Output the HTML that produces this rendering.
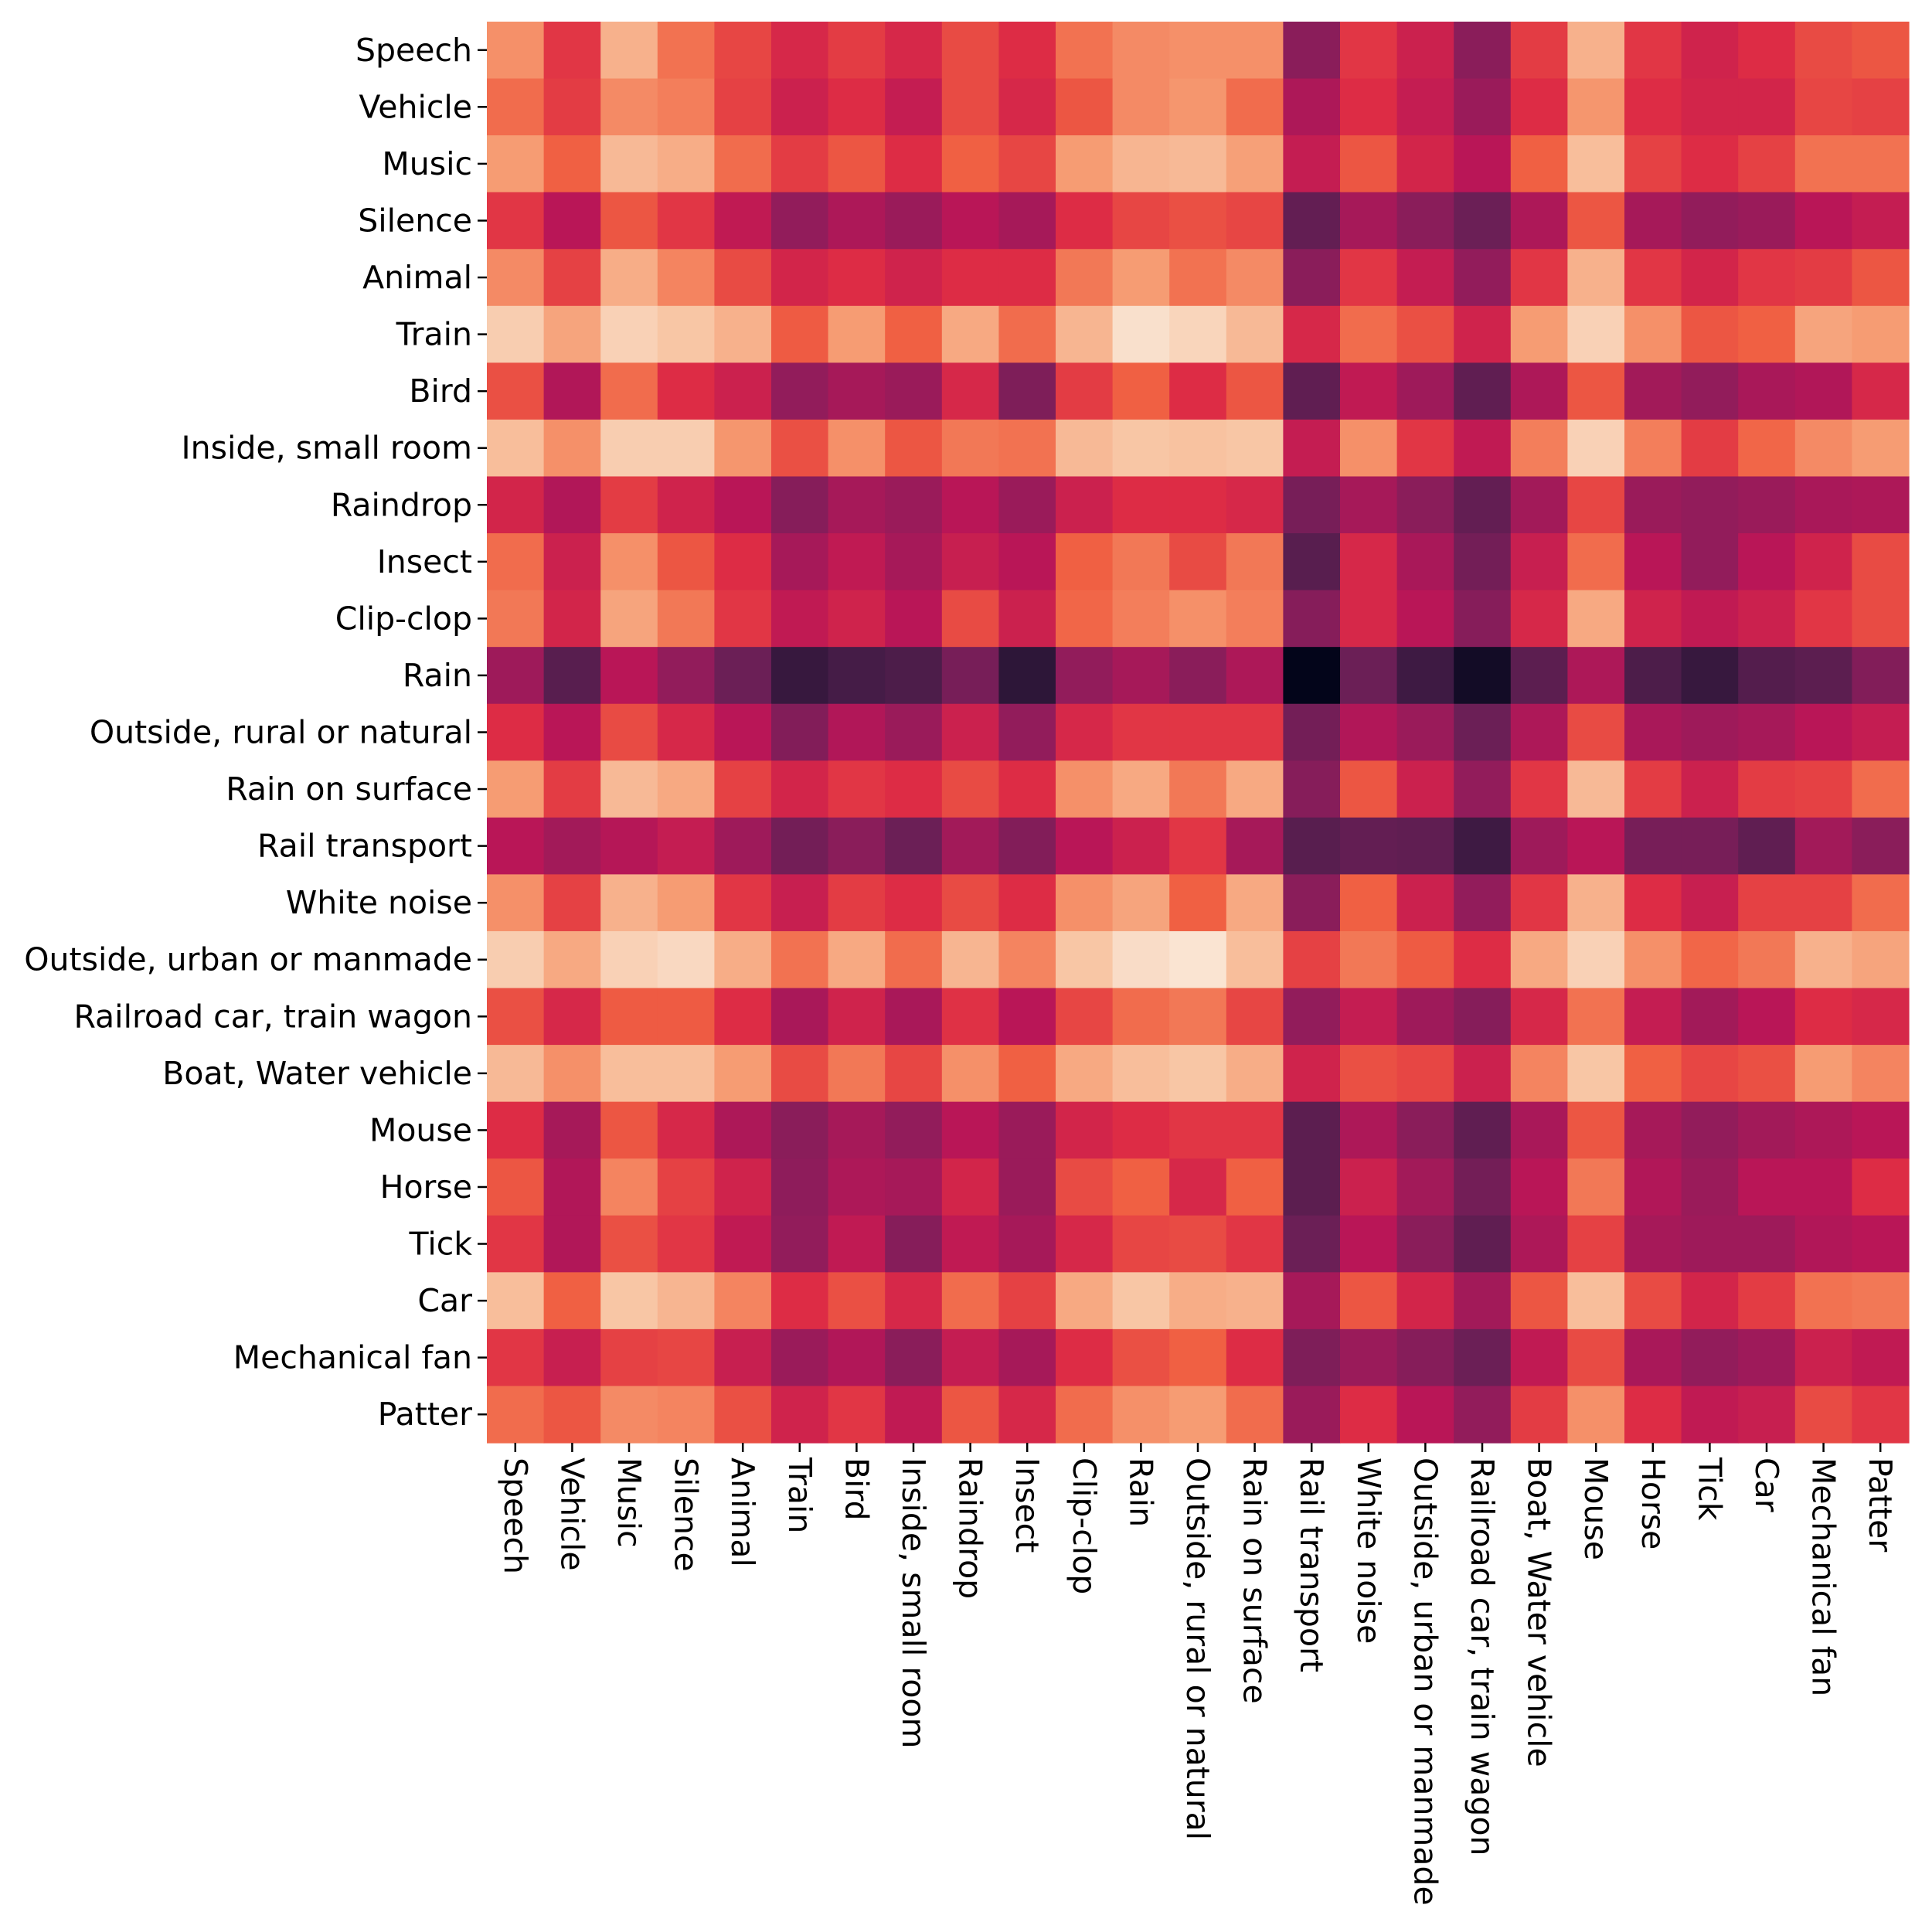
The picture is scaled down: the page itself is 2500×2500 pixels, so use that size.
<!DOCTYPE html>
<html><head><meta charset="utf-8">
<style>
html,body{margin:0;padding:0;background:#fff;}
svg{display:block;font-family:"DejaVu Sans","Liberation Sans",sans-serif;}
</style></head>
<body>
<svg id="chart" width="2500" height="2500" viewBox="0 0 2500 2500" xmlns="http://www.w3.org/2000/svg">
<rect width="2500" height="2500" fill="#fff"/>
<g id="cells"></g>
<g id="yaxis"></g>
<g id="xaxis"></g>
</svg>
<script>
const categories = ["Speech","Vehicle","Music","Silence","Animal","Train","Bird","Inside, small room","Raindrop","Insect","Clip-clop","Rain","Outside, rural or natural","Rain on surface","Rail transport","White noise","Outside, urban or manmade","Railroad car, train wagon","Boat, Water vehicle","Mouse","Horse","Tick","Car","Mechanical fan","Patter"];
const rowSpeech=[0.78,0.62,0.85,0.73,0.65,0.58,0.63,0.58,0.66,0.6,0.73,0.77,0.78,0.78,0.38,0.62,0.55,0.38,0.63,0.85,0.62,0.56,0.6,0.66,0.68];
const rowVehicle=[0.72,0.63,0.77,0.75,0.64,0.55,0.6,0.53,0.66,0.58,0.68,0.77,0.79,0.72,0.47,0.6,0.53,0.42,0.6,0.79,0.6,0.57,0.57,0.65,0.64];
const rowMusic=[0.8,0.7,0.87,0.84,0.72,0.63,0.68,0.6,0.7,0.65,0.8,0.86,0.87,0.81,0.53,0.68,0.57,0.5,0.7,0.88,0.64,0.6,0.64,0.73,0.73];
const rowSilence=[0.62,0.5,0.68,0.62,0.52,0.4,0.47,0.42,0.5,0.45,0.6,0.65,0.67,0.65,0.28,0.45,0.38,0.3,0.47,0.68,0.45,0.4,0.42,0.5,0.53];
const rowAnimal=[0.77,0.64,0.84,0.76,0.66,0.57,0.6,0.56,0.6,0.6,0.74,0.8,0.73,0.77,0.38,0.62,0.53,0.4,0.62,0.85,0.62,0.57,0.62,0.63,0.68];
const rowTrain=[0.92,0.82,0.93,0.9,0.85,0.69,0.8,0.7,0.83,0.72,0.86,0.97,0.94,0.87,0.58,0.72,0.67,0.56,0.8,0.93,0.78,0.68,0.7,0.82,0.8];
const rowBird=[0.67,0.48,0.72,0.6,0.55,0.4,0.45,0.42,0.58,0.35,0.63,0.7,0.6,0.68,0.27,0.52,0.43,0.27,0.47,0.68,0.44,0.4,0.46,0.48,0.58];
const rowInside=[0.88,0.78,0.92,0.92,0.79,0.67,0.78,0.68,0.74,0.73,0.87,0.9,0.89,0.9,0.53,0.78,0.62,0.52,0.75,0.93,0.75,0.63,0.71,0.77,0.8];
const rowRaindrop=[0.57,0.48,0.63,0.56,0.5,0.37,0.45,0.42,0.5,0.42,0.55,0.6,0.6,0.58,0.33,0.45,0.38,0.28,0.44,0.65,0.42,0.4,0.42,0.46,0.47];
const rowInsect=[0.72,0.55,0.78,0.68,0.6,0.45,0.52,0.45,0.54,0.5,0.7,0.74,0.66,0.74,0.25,0.58,0.46,0.32,0.54,0.72,0.5,0.4,0.5,0.56,0.66];
const rowClipclop=[0.74,0.57,0.82,0.74,0.62,0.52,0.56,0.5,0.66,0.55,0.71,0.75,0.78,0.75,0.37,0.58,0.5,0.37,0.58,0.83,0.56,0.52,0.55,0.62,0.66];
const rowRain=[0.43,0.25,0.5,0.4,0.3,0.16,0.2,0.22,0.33,0.13,0.4,0.45,0.38,0.47,0.0,0.3,0.18,0.05,0.26,0.47,0.22,0.16,0.24,0.26,0.36];
const rowOutsideRural=[0.6,0.5,0.66,0.58,0.5,0.36,0.48,0.42,0.55,0.4,0.58,0.62,0.62,0.62,0.32,0.48,0.42,0.3,0.47,0.66,0.46,0.43,0.45,0.5,0.53];
const rowRainSurface=[0.8,0.63,0.87,0.83,0.64,0.57,0.62,0.6,0.66,0.6,0.78,0.83,0.74,0.83,0.37,0.68,0.55,0.4,0.62,0.87,0.63,0.55,0.63,0.64,0.72];
const rowRailTransport=[0.5,0.44,0.49,0.53,0.43,0.32,0.38,0.3,0.44,0.36,0.5,0.55,0.62,0.45,0.25,0.28,0.27,0.18,0.43,0.5,0.33,0.33,0.27,0.44,0.38];
const rowWhiteNoise=[0.78,0.64,0.85,0.8,0.62,0.54,0.63,0.6,0.66,0.6,0.78,0.82,0.7,0.83,0.38,0.7,0.55,0.4,0.62,0.85,0.6,0.54,0.64,0.64,0.72];
const rowOutsideUrban=[0.92,0.83,0.93,0.95,0.84,0.73,0.83,0.72,0.86,0.76,0.9,0.96,0.98,0.88,0.64,0.74,0.69,0.6,0.83,0.93,0.78,0.71,0.74,0.85,0.82];
const rowRailroadCar=[0.67,0.58,0.69,0.69,0.6,0.46,0.56,0.46,0.61,0.5,0.65,0.72,0.74,0.65,0.4,0.53,0.43,0.37,0.58,0.73,0.53,0.44,0.5,0.6,0.58];
const rowBoat=[0.87,0.78,0.88,0.88,0.8,0.66,0.74,0.65,0.78,0.7,0.83,0.88,0.9,0.84,0.56,0.67,0.65,0.55,0.76,0.9,0.7,0.65,0.67,0.8,0.76];
const rowMouse=[0.6,0.45,0.68,0.58,0.47,0.38,0.45,0.4,0.5,0.42,0.57,0.6,0.62,0.62,0.26,0.47,0.38,0.27,0.46,0.68,0.45,0.4,0.44,0.47,0.5];
const rowHorse=[0.68,0.48,0.76,0.64,0.56,0.39,0.47,0.45,0.57,0.42,0.66,0.7,0.58,0.7,0.26,0.55,0.44,0.32,0.5,0.74,0.48,0.42,0.5,0.5,0.6];
const rowTick=[0.62,0.48,0.67,0.62,0.52,0.4,0.52,0.37,0.52,0.45,0.58,0.65,0.66,0.62,0.3,0.5,0.38,0.27,0.47,0.64,0.45,0.43,0.43,0.48,0.5];
const rowCar=[0.88,0.7,0.9,0.86,0.76,0.6,0.67,0.58,0.72,0.64,0.83,0.9,0.84,0.85,0.45,0.68,0.57,0.44,0.68,0.88,0.66,0.57,0.63,0.73,0.74];
const rowMechFan=[0.62,0.54,0.64,0.65,0.54,0.42,0.48,0.38,0.53,0.45,0.6,0.67,0.7,0.6,0.35,0.42,0.37,0.3,0.52,0.66,0.46,0.4,0.43,0.55,0.52];
const rowPatter=[0.72,0.68,0.77,0.76,0.67,0.56,0.62,0.52,0.68,0.58,0.72,0.78,0.8,0.72,0.42,0.6,0.5,0.4,0.63,0.78,0.6,0.52,0.54,0.66,0.62];
const matrix=[rowSpeech,rowVehicle,rowMusic,rowSilence,rowAnimal,rowTrain,rowBird,rowInside,rowRaindrop,rowInsect,rowClipclop,rowRain,rowOutsideRural,rowRainSurface,rowRailTransport,rowWhiteNoise,rowOutsideUrban,rowRailroadCar,rowBoat,rowMouse,rowHorse,rowTick,rowCar,rowMechFan,rowPatter];

const NS="http://www.w3.org/2000/svg";
const plotLeft=630, plotTop=28, plotRight=2470, plotBottom=1867;
const nCat=categories.length;
const cw=(plotRight-plotLeft)/nCat, ch=(plotBottom-plotTop)/nCat;
function xScale(i){return plotLeft+i*cw;}
function yScale(i){return plotTop+i*ch;}
const stops=[[0,"#03051a"],[0.1,"#221331"],[0.2,"#451c47"],[0.3,"#6b1f56"],[0.4,"#921c5b"],[0.5,"#b91657"],[0.6,"#dd2c45"],[0.7,"#f06043"],[0.8,"#f69c73"],[0.9,"#f8c6a5"],[1,"#faebdd"]];
function hexToRgb(h){return [1,3,5].map(k=>parseInt(h.substr(k,2),16));}
function colorFor(v){
  v=Math.max(0,Math.min(1,v));
  for(let k=0;k<stops.length-1;k++){
    const a=stops[k],b=stops[k+1];
    if(v<=b[0]){const t=(v-a[0])/(b[0]-a[0]);const ca=hexToRgb(a[1]),cb=hexToRgb(b[1]);
      return "rgb("+ca.map((c,j)=>Math.round(c+(cb[j]-c)*t)).join(",")+")";}
  }
  return stops[stops.length-1][1];
}
const cellsG=document.getElementById('cells');
matrix.forEach((row,r)=>row.forEach((v,c)=>{
  const el=document.createElementNS(NS,'rect');
  el.setAttribute('x',xScale(c));el.setAttribute('y',yScale(r));
  el.setAttribute('width',cw+0.6);el.setAttribute('height',ch+0.6);
  el.setAttribute('fill',colorFor(v));
  
  
  cellsG.appendChild(el);
}));
const yaG=document.getElementById('yaxis'), xaG=document.getElementById('xaxis');
categories.forEach((cat,i)=>{
  const cy=yScale(i)+ch/2;
  const t=document.createElementNS(NS,'line');
  t.setAttribute('x1',plotLeft-12);t.setAttribute('x2',plotLeft);t.setAttribute('y1',cy);t.setAttribute('y2',cy);
  t.setAttribute('stroke','#000');t.setAttribute('stroke-width','2.5');
  
  
  yaG.appendChild(t);
  const lb=document.createElementNS(NS,'text');
  lb.setAttribute('x',plotLeft-19);lb.setAttribute('y',cy);
  lb.setAttribute('text-anchor','end');lb.setAttribute('dominant-baseline','central');
  lb.setAttribute('font-size','41');lb.textContent=cat;
  
  
  yaG.appendChild(lb);
  const cx=xScale(i)+cw/2;
  const t2=document.createElementNS(NS,'line');
  t2.setAttribute('x1',cx);t2.setAttribute('x2',cx);t2.setAttribute('y1',plotBottom);t2.setAttribute('y2',plotBottom+12);
  t2.setAttribute('stroke','#000');t2.setAttribute('stroke-width','2.5');
  
  
  xaG.appendChild(t2);
  const lx=document.createElementNS(NS,'text');
  lx.setAttribute('transform','translate('+cx+','+(plotBottom+19)+') rotate(90)');
  lx.setAttribute('text-anchor','start');lx.setAttribute('dominant-baseline','central');
  lx.setAttribute('font-size','41');lx.textContent=cat;
  
  
  xaG.appendChild(lx);
});
</script>
</body></html>
